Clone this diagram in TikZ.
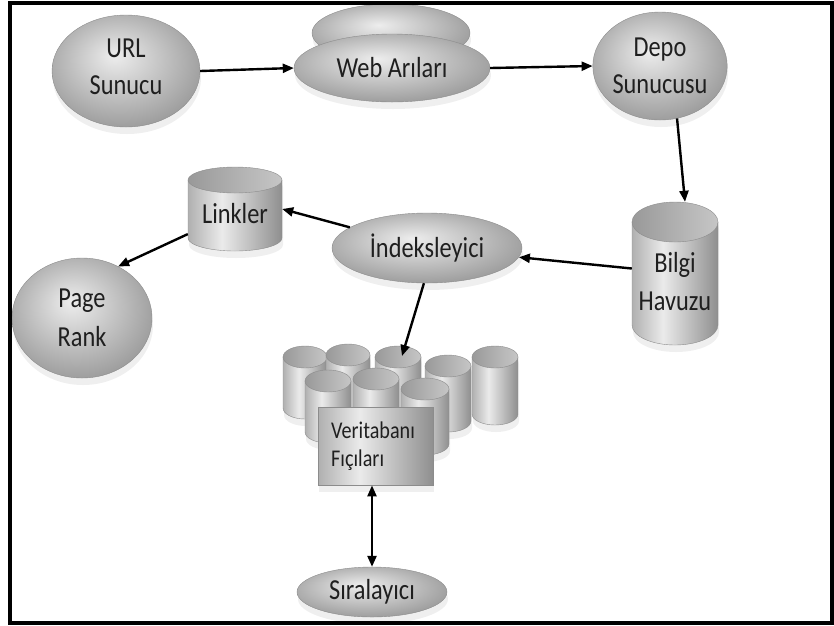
\documentclass[tikz,border=0pt]{standalone}
\usepackage{fontspec}
\setmainfont{Carlito}[FakeStretch=0.84]
\usetikzlibrary{arrows.meta,calc,shadows,shapes.geometric}

\pgfdeclareradialshading{ballgray}{\pgfpoint{-4bp}{7bp}}{color(0bp)=(gray!14); color(29bp)=(gray!78); color(50bp)=(gray!78)}
\pgfdeclarehorizontalshading{cylgray}{100bp}{color(0bp)=(gray!62); color(25bp)=(gray!62); color(43bp)=(gray!16); color(75bp)=(gray!88); color(100bp)=(gray!88)}
\pgfdeclarehorizontalshading{capgray}{100bp}{color(0bp)=(gray!80); color(25bp)=(gray!80); color(60bp)=(gray!55); color(75bp)=(gray!45); color(100bp)=(gray!45)}

\tikzset{
  x=1pt, y=1pt,
  shadowfill/.style={fill=gray!45, opacity=0.28},
  ball/.style={ellipse, draw=gray!90, line width=0.4pt, shading=ballgray, inner sep=0pt,
    align=center, text=black!88, font=\fontsize{29}{37}\selectfont,
    drop shadow={shadow xshift=1pt, shadow yshift=-7pt, opacity=0.28, fill=gray!45}},
  cylside/.style={draw=gray!90, line width=0.4pt, shading=cylgray},
  cyltop/.style={draw=gray!90, line width=0.4pt, shading=capgray},
  cylnode/.style={inner sep=0pt, align=center, text=black!88, font=\fontsize{29}{38}\selectfont},
  boxnode/.style={draw=gray!90, line width=0.4pt, shading=cylgray, inner ysep=0pt, inner xsep=13pt,
    text width=89pt, align=left, text=black!88, font=\fontsize{24}{28}\selectfont,
    drop shadow={shadow xshift=1pt, shadow yshift=-7pt, opacity=0.28, fill=gray!45}},
  conn/.style={line width=2.4pt, -{Triangle[length=11pt,width=9pt]}},
  dconn/.style={line width=2.4pt, {Triangle[length=11pt,width=9pt]}-{Triangle[length=11pt,width=9pt]}},
}

% name, cx, ytop, ybot, rx, ry, text
\newcommand\dbcyl[7]{%
  \path[shadowfill] (#2-#5+1,-#3-7) -- (#2-#5+1,-#4-7) arc[start angle=180,end angle=360,x radius=#5pt,y radius=#6pt] -- (#2+#5+1,-#3-7) arc[start angle=0,end angle=180,x radius=#5pt,y radius=#6pt] -- cycle;
  \path[cylside] (#2-#5,-#3) -- (#2-#5,-#4) arc[start angle=180,end angle=360,x radius=#5pt,y radius=#6pt] -- (#2+#5,-#3) -- cycle;
  \path[cyltop] (#2,-#3) ellipse[x radius=#5pt, y radius=#6pt];
  \node[cylnode, minimum width=2*#5, minimum height=#4-#3+2*#6] (#1) at (#2,{-(#3+#4)/2}) {#7};
}

\begin{document}
\begin{tikzpicture}
\useasboundingbox (0,0) rectangle (834,-625);

% top row
\node[ball, minimum width=148, minimum height=112] (url) at (126,-71) {\\[-27pt]URL\\Sunucu};
\node[ball, minimum width=158, minimum height=58] (webback) at (391,-33) {};
\node[ball, minimum width=196, minimum height=68] (web) at (392,-68) {Web Arıları};
\node[ball, minimum width=124, minimum height=108] (depo) at (660,-66) {Depo\\Sunucusu};

% middle
\dbcyl{bilgi}{675}{222}{325}{43}{20}{\\[-1pt]Bilgi\\Havuzu}
\dbcyl{linkler}{235}{180}{238}{47}{13}{\\[-8pt]Linkler}
\node[ball, minimum width=190, minimum height=70] (indeks) at (427,-248) {İndeksleyici};
\node[ball, minimum width=140, minimum height=120] (pagerank) at (82,-318) {Page\\[2pt]Rank};

% database barrels
\dbcyl{dbA}{305}{357}{408}{22}{11}{}
\dbcyl{dbB}{348}{355}{410}{22}{11}{}
\dbcyl{dbC}{398}{357}{417}{23}{11}{}
\dbcyl{dbE}{495}{357}{414}{23}{11}{}
\dbcyl{dbD}{448}{366}{421}{23}{11}{}
\dbcyl{dbF}{328}{381}{432}{23}{11}{}
\dbcyl{dbG}{376}{379}{432}{23}{11}{}
\dbcyl{dbH}{425}{389}{444}{24}{11}{}
\node[boxnode, minimum height=78, anchor=north west] (db) at (318,-407) {Veritabanı\\Fıçıları\\[18pt]};
\coordinate (dbin) at (402,-356);

\node[ball, minimum width=150, minimum height=50] (sira) at (372,-592) {Sıralayıcı};

% connectors
\draw[conn] (url.east) -- (web.west);
\draw[conn] (web.east) -- (depo.west);
\draw[conn] (depo.-72) -- ($(bilgi.north)+(10,0)$);
\draw[conn] ($(bilgi.west)+(0,5)$) -- (indeks);
\draw[conn] (indeks.165) -- (linkler.east);
\draw[conn] (linkler.208) -- (pagerank.55);
\draw[conn] (indeks.-95) -- (dbin);
\draw[dconn] (db.south -| sira.north) -- (sira.north);

% frame
\draw[line width=4pt] (10,-3) -- (832,-3) -- (832,-623) -- (10,-623) -- cycle;
\end{tikzpicture}
\end{document}
